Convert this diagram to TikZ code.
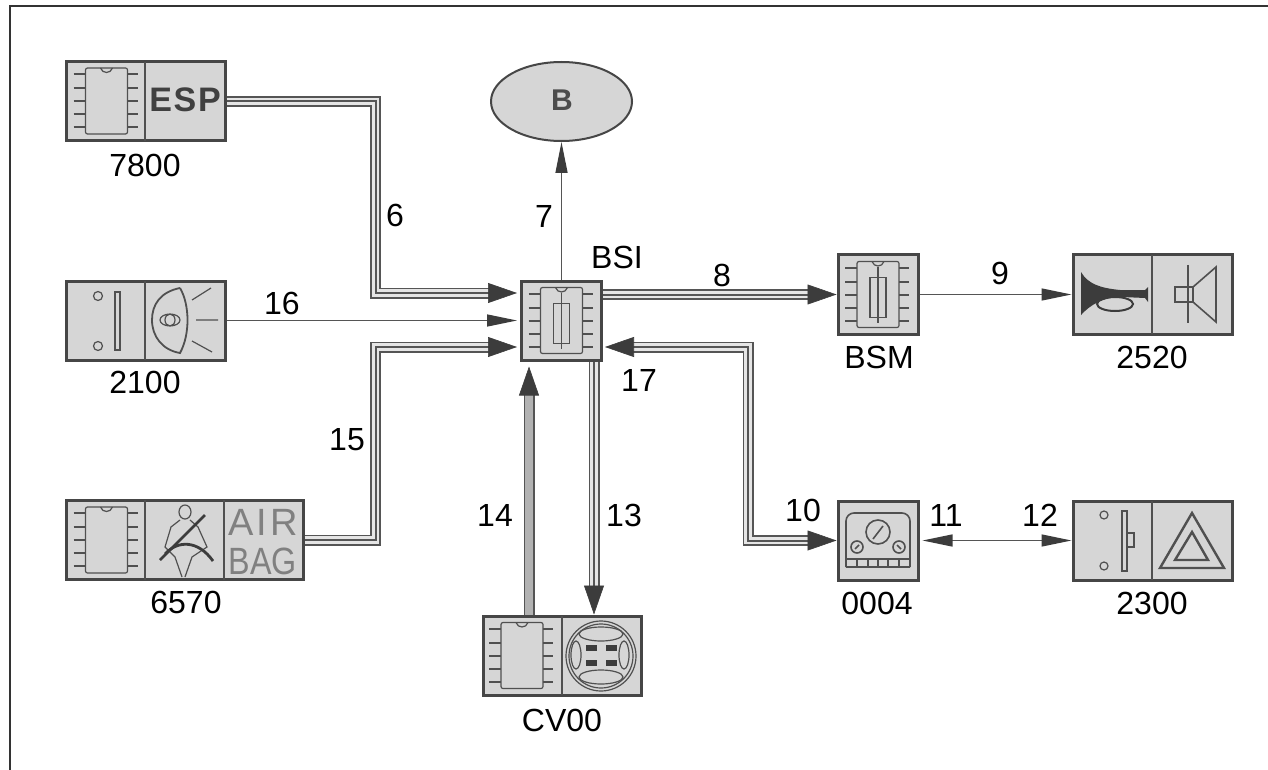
\documentclass[tikz,border=0pt]{standalone}
\usepackage{fontspec}
\usepackage{graphicx}
\usepackage{xcolor}
\usetikzlibrary{arrows.meta,shapes.geometric}
\setmainfont{Liberation Sans}
\definecolor{boxfill}{RGB}{214,214,214}
\definecolor{boxline}{RGB}{70,70,70}
\definecolor{wirecol}{RGB}{85,85,85}
\definecolor{tipcol}{RGB}{60,60,60}
\definecolor{iconcol}{RGB}{80,80,80}
\tikzset{
  modbox/.style={draw=boxline,fill=boxfill,line width=1.5pt,inner sep=0pt,minimum height=39.5pt},
  icon/.style={draw=iconcol,line width=0.6pt},
  iconfat/.style={draw=tipcol,line width=1.4pt},
  divider/.style={draw=iconcol,line width=0.7pt},
  wire3/.style={draw=wirecol,line width=5.5pt,
    postaction={draw=black!10,line width=3.6pt},
    postaction={draw=wirecol,line width=1pt}},
  wiregray/.style={draw=wirecol,line width=5.5pt,
    postaction={draw=black!30,line width=3.8pt}},
  wire1/.style={draw=wirecol,line width=0.7pt},
  bigtip/.style={draw=tipcol,line width=0.3pt,-{Triangle[length=14.5pt,width=10pt,fill=tipcol,color=tipcol]}},
  smalltip/.style={wire1,-{Triangle[length=15pt,width=6pt,fill=tipcol,color=tipcol]}},
  numlbl/.style={font=\fontsize{16}{18}\selectfont,text=black,inner sep=0pt},
}
% chip body with its pins, centred on the given point
\newcommand{\chipicon}[2]{
  \begin{scope}[shift={(#1,#2)}]
    \draw[icon,rounded corners=1pt] (-21,-33) rectangle (21,33);
    \draw[icon] (-6,-33) .. controls (-4,-27) and (4,-27) .. (6,-33);
    \foreach \pin in {-27,-13,0,13,26} {
      \draw[icon,line width=1pt] (-33,\pin) -- (-21,\pin);
      \draw[icon,line width=1pt] (21,\pin) -- (31,\pin);
    }
  \end{scope}
}
% same chip with the fuse on it
\newcommand{\fuseicon}[2]{
  \chipicon{#1}{#2}
  \begin{scope}[shift={(#1,#2)}]
    \draw[icon] (-8,-17) rectangle (8,23);
    \draw[icon] (0,-28) -- (0,28);
  \end{scope}
}
\begin{document}
\begin{tikzpicture}[x=0.5pt,y=-0.5pt]
\useasboundingbox (0,0) rectangle (1268,770);
\fill[white] (0,0) rectangle (1268,770);
% frame, only top and left are in the picture
\draw[black!80,line width=1.2pt] (10,770) -- (10,6) -- (1268,6);

% modules
\node[modbox,minimum width=79.5pt] (esp) at (145.5,101.5) {};
\node[modbox,minimum width=79.5pt] (lamp) at (145.5,320.5) {};
\node[modbox,minimum width=118.5pt] (airbag) at (184.5,540) {};
\node[modbox,minimum width=40pt] (bsi) at (561.5,320.5) {};
\node[modbox,minimum width=40pt] (bsm) at (878,294.5) {};
\node[modbox,minimum width=79.5pt] (horn) at (1152.5,294.5) {};
\node[modbox,minimum width=40pt] (dash) at (878,540.5) {};
\node[modbox,minimum width=79.5pt] (hazard) at (1152.5,540.5) {};
\node[modbox,minimum width=79pt] (cv) at (562,655.5) {};
\node[draw=boxline,fill=boxfill,line width=1pt,ellipse,minimum width=70.5pt,minimum height=39.5pt,inner sep=0pt] (bus) at (561.5,101.5) {};
\node[font=\bfseries\fontsize{15}{15}\selectfont,text=black!70,inner sep=0pt] (busname) at (562,100) {B};

% dividers
\draw[divider] (145,62) -- (145,141);
\draw[divider] (145,281) -- (145,360);
\draw[divider] (145,500) -- (145,580);
\draw[divider] (224,500) -- (224,580);
\draw[divider] (1152,255) -- (1152,334);
\draw[divider] (1152,501) -- (1152,580);
\draw[divider] (562,616) -- (562,695);

% chips
\chipicon{106.5}{101}
\chipicon{106.5}{540}
\chipicon{522}{655.5}
\fuseicon{561.5}{320.5}
\fuseicon{878}{294.5}

% ESP and airbag words
\node[font=\bfseries\fontsize{17}{17}\selectfont\addfontfeature{LetterSpace=5},text=black!75,inner sep=0pt] (esptxt) at (185,100) {ESP};
\node[font=\fontsize{19}{19}\selectfont\addfontfeature{LetterSpace=8},text=black!50,inner sep=0pt] (airtxt) at (263,522) {AIR};
\node[font=\fontsize{19}{19}\selectfont,text=black!50,inner sep=0pt] (bagtxt) at (263,561) {\scalebox{0.85}[1]{BAG}};

% lamp switch
\draw[icon] (98,296) circle (4.5) (98,346) circle (4.5);
\draw[icon] (115,292) rectangle (120,350);
\draw[icon,line width=0.9pt] (180,288) .. controls (160,292) and (152,305) .. (152,320) .. controls (152,336) and (162,350) .. (180,353)
  .. controls (190,335) and (190,305) .. (180,288);
\draw[icon] (170,320) ellipse (10 and 6) (170,320) ellipse (5 and 6);
\draw[icon] (192,300) -- (211,288) (196,320) -- (218,320) (192,341) -- (212,352);

% seat belt
\draw[icon] (185,512) ellipse (6 and 7);
\draw[icon] (180,520) -- (171,527) -- (165,547) -- (175,557) -- (182,577);
\draw[icon] (190,520) -- (198,527) -- (207,547) -- (192,557) -- (185,577);
\draw[iconfat] (160,560) -- (205,515);
\draw[iconfat] (165,554) .. controls (178,540) and (198,540) .. (213,561);

% horn
\fill[tipcol] (1081,272) .. controls (1088,284) and (1100,288) .. (1120,290) -- (1145,290) -- (1148,287) -- (1148,302) -- (1145,298)
  -- (1122,297) .. controls (1103,297) and (1090,305) .. (1081,315) -- cycle;
\draw[iconfat,line width=1pt] (1115,304) ellipse (18 and 7);
\draw[icon] (1188,265) -- (1188,323);
\draw[icon,line width=0.8pt] (1175,287) rectangle (1193,302);
\draw[icon,line width=0.8pt] (1193,287) -- (1216,267) -- (1216,322) -- (1193,302);

% instrument cluster
\draw[icon,line width=0.8pt,rounded corners=4pt] (846,567) -- (846,513) -- (910,513) -- (910,567);
\draw[icon,line width=0.8pt] (846,567) -- (910,567) (846,559) -- (910,559);
\foreach \tick in {857,868,878,888,899} {
  \draw[icon] (\tick,559) -- (\tick,567);
}
\draw[icon,line width=0.8pt] (878,532) circle (12) (857,547) circle (6) (899,547) circle (6);
\draw[icon,line width=0.8pt] (873,539) -- (883,526) (855,549) -- (859,545) (897,545) -- (901,549);

% hazard switch
\draw[icon] (1104,515) circle (4) (1104,566) circle (4);
\draw[icon] (1122,511) rectangle (1127,571);
\draw[icon] (1127,533) rectangle (1134,547);
\draw[icon,line width=1.2pt] (1192,513) -- (1160,568) -- (1224,568) -- cycle;
\draw[icon,line width=1.2pt] (1192,532) -- (1175,560) -- (1208,560) -- cycle;

% steering wheel
\draw[icon] (601,656) circle (35) (601,656) circle (32);
\draw[icon] (601,634) ellipse (22 and 7) (601,677) ellipse (22 and 7);
\draw[icon] (576,655) ellipse (5 and 14) (624,655) ellipse (5 and 14);
\foreach \px/\py in {591/648,611/648,591/663,611/663} {
  \fill[tipcol] (\px-5.5,\py-3) rectangle (\px+5.5,\py+3);
}

% arrow starts
\coordinate (in6) at (491,293);
\coordinate (in15) at (491,347);
\coordinate (in8) at (808,294.5);
\coordinate (in17) at (632,347);
\coordinate (in10) at (808,540.5);
\coordinate (in13) at (594,586);
\coordinate (in14) at (529,393);

% connectors
\draw[wire3] (esp.east) -- (375.5,101.5) |- (in6);
\draw[bigtip,shorten >=1.5pt] (in6) -- (in6 -| bsi.west);
\draw[wire3] (airbag.east) -- (375.5,540) |- (in15);
\draw[bigtip,shorten >=1.5pt] (in15) -- (in15 -| bsi.west);
\draw[smalltip,shorten >=1.5pt] (lamp.east) -- (bsi.west);
\draw[wire3] (in8 -| bsi.east) -- (in8);
\draw[bigtip] (in8) -- (bsm.west);
\draw[wire1,-{Triangle[length=15.5pt,width=6pt,fill=tipcol,color=tipcol]}] (bsi.north) -- (bus.south);
\draw[smalltip] (bsm.east) -- (horn.west);
\draw[wire3] (in17) -- (748,347) |- (in10);
\draw[bigtip,shorten >=1pt] (in17) -- (in17 -| bsi.east);
\draw[bigtip] (in10) -- (dash.west);
\draw[wire1,{Triangle[length=15pt,width=6pt,fill=tipcol,color=tipcol]}-{Triangle[length=15pt,width=6pt,fill=tipcol,color=tipcol]},shorten <=1.5pt] (dash.east) -- (hazard.west);
\draw[wire3] (bsi.south -| in13) -- (in13);
\draw[bigtip] (in13) -- (in13 |- cv.north);
\draw[wiregray] (cv.north -| in14) -- (in14);
\draw[bigtip,shorten >=2.5pt] (in14) -- (in14 |- bsi.south);

% names under modules
\node[numlbl] (lbl7800) at (145,165) {7800};
\node[numlbl] (lbl2100) at (145,382) {2100};
\node[numlbl] (lbl6570) at (186,602) {6570};
\node[numlbl] (lblbsi) at (617,257) {BSI};
\node[numlbl] (lblbsm) at (879,357) {BSM};
\node[numlbl] (lbl2520) at (1152,357) {2520};
\node[numlbl] (lbl0004) at (877,603) {0004};
\node[numlbl] (lbl2300) at (1152,603) {2300};
\node[numlbl] (lblcv) at (562,720) {CV00};

% wire numbers
\node[numlbl] (n6) at (395,215) {6};
\node[numlbl] (n7) at (544,216) {7};
\node[numlbl] (n8) at (722,275) {8};
\node[numlbl] (n9) at (1000,273) {9};
\node[numlbl] (n10) at (803,510) {10};
\node[numlbl] (n11) at (946,515) {11};
\node[numlbl] (n12) at (1040,515) {12};
\node[numlbl] (n13) at (624,515) {13};
\node[numlbl] (n14) at (495,515) {14};
\node[numlbl] (n15) at (347,440) {15};
\node[numlbl] (n16) at (282,303) {16};
\node[numlbl] (n17) at (639,380) {17};
\end{tikzpicture}
\end{document}
